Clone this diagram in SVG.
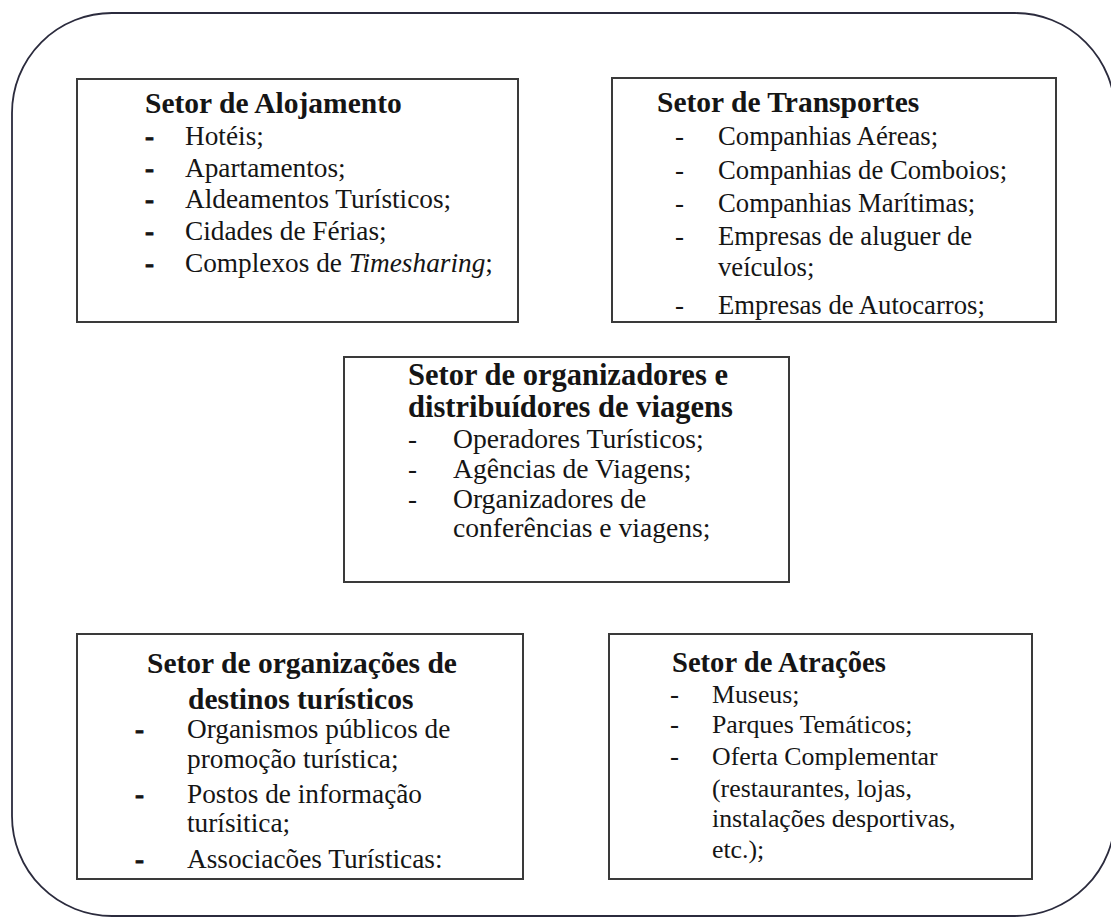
<svg xmlns="http://www.w3.org/2000/svg" width="1111" height="920" viewBox="0 0 1111 920">
  <style>
    .frame { fill: none; stroke: #2b2b3d; stroke-width: 1.8; }
    .box { fill: #ffffff; stroke: #3a3a3a; stroke-width: 2; }
    text { font-family: "Liberation Serif", "Times New Roman", serif; fill: #151515; }
    .title { font-size: 29.5px; font-weight: bold; }
    .item { font-size: 27.3px; }
    .dash { font-size: 27px; }
    .bdash { font-size: 27px; font-weight: bold; stroke: #151515; stroke-width: 0.8; }
  </style>
  <defs>
    <clipPath id="clip-transportes">
      <rect x="613" y="79" width="442" height="242"/>
    </clipPath>
  </defs>

  <rect width="1111" height="920" fill="#ffffff"/>

  <!-- outer rounded frame -->
  <rect class="frame" x="12" y="13" width="1103" height="903" rx="100" ry="100"/>

  <g id="connectors"></g>

  <!-- Accommodation -->
  <g id="alojamento">
    <rect class="box" x="77" y="79" width="441" height="243"/>
    <text class="title" x="145" y="113">Setor de Alojamento</text>
    <text class="bdash" x="145" y="145">-</text>
    <text class="item" x="185" y="145">Hotéis;</text>
    <text class="bdash" x="145" y="177">-</text>
    <text class="item" x="185" y="177">Apartamentos;</text>
    <text class="bdash" x="145" y="208">-</text>
    <text class="item" x="185" y="208">Aldeamentos Turísticos;</text>
    <text class="bdash" x="145" y="240">-</text>
    <text class="item" x="185" y="240">Cidades de Férias;</text>
    <text class="bdash" x="145" y="272">-</text>
    <text class="item" x="185" y="272">Complexos de <tspan font-style="italic">Timesharing</tspan>;</text>
  </g>

  <!-- Transport -->
  <g id="transportes">
    <rect class="box" x="612" y="78" width="444" height="244"/>
    <g clip-path="url(#clip-transportes)">
      <text class="title" x="657" y="112">Setor de Transportes</text>
      <text class="dash" x="675" y="145">-</text>
      <text class="item" x="718" y="145" style="font-size:26.7px">Companhias Aéreas;</text>
      <text class="dash" x="675" y="179">-</text>
      <text class="item" x="718" y="179" style="font-size:26.7px">Companhias de Comboios;</text>
      <text class="dash" x="675" y="212">-</text>
      <text class="item" x="718" y="212" style="font-size:26.7px">Companhias Marítimas;</text>
      <text class="dash" x="675" y="245">-</text>
      <text class="item" x="718" y="245" style="font-size:26.7px">Empresas de aluguer de</text>
      <text class="item" x="718" y="276" style="font-size:26.7px">veículos;</text>
      <text class="dash" x="675" y="314">-</text>
      <text class="item" x="718" y="314" style="font-size:26.7px">Empresas de Autocarros;</text>
    </g>
    <rect x="612" y="78" width="444" height="244" fill="none" stroke="#3a3a3a" stroke-width="2"/>
  </g>

  <!-- Tour organisers and distributors -->
  <g id="organizadores">
    <rect class="box" x="344" y="357" width="445" height="225"/>
    <text class="title" x="408" y="385" style="font-size:30.5px">Setor de organizadores e</text>
    <text class="title" x="408" y="417" style="font-size:30.5px">distribuídores de viagens</text>
    <text class="dash" x="408" y="448">-</text>
    <text class="item" x="453" y="448" style="font-size:27.6px">Operadores Turísticos;</text>
    <text class="dash" x="408" y="478">-</text>
    <text class="item" x="453" y="478" style="font-size:27.6px">Agências de Viagens;</text>
    <text class="dash" x="408" y="508">-</text>
    <text class="item" x="453" y="508" style="font-size:27.6px">Organizadores de</text>
    <text class="item" x="453" y="537" style="font-size:27.6px">conferências e viagens;</text>
  </g>

  <!-- Destination organisations -->
  <g id="destinos">
    <rect class="box" x="77" y="634" width="446" height="245"/>
    <text class="title" x="147" y="673">Setor de organizações de</text>
    <text class="title" x="188" y="709">destinos turísticos</text>
    <text class="bdash" x="135" y="738">-</text>
    <text class="item" x="187" y="738">Organismos públicos de</text>
    <text class="item" x="187" y="768">promoção turística;</text>
    <text class="bdash" x="135" y="803">-</text>
    <text class="item" x="187" y="803">Postos de informação</text>
    <text class="item" x="187" y="832">turísitica;</text>
    <text class="bdash" x="135" y="868">-</text>
    <text class="item" x="187" y="868">Associacões Turísticas:</text>
  </g>

  <!-- Attractions -->
  <g id="atracoes">
    <rect class="box" x="609" y="634" width="423" height="245"/>
    <text class="title" x="672" y="672" style="font-size:28.6px">Setor de Atrações</text>
    <text class="dash" x="670" y="703">-</text>
    <text class="item" x="712" y="703" style="font-size:25.8px">Museus;</text>
    <text class="dash" x="670" y="733">-</text>
    <text class="item" x="712" y="733" style="font-size:25.8px">Parques Temáticos;</text>
    <text class="dash" x="670" y="765">-</text>
    <text class="item" x="712" y="765" style="font-size:25.8px">Oferta Complementar</text>
    <text class="item" x="712" y="797" style="font-size:25.8px">(restaurantes, lojas,</text>
    <text class="item" x="712" y="827" style="font-size:25.8px">instalações desportivas,</text>
    <text class="item" x="712" y="858" style="font-size:25.8px">etc.);</text>
  </g>
</svg>
